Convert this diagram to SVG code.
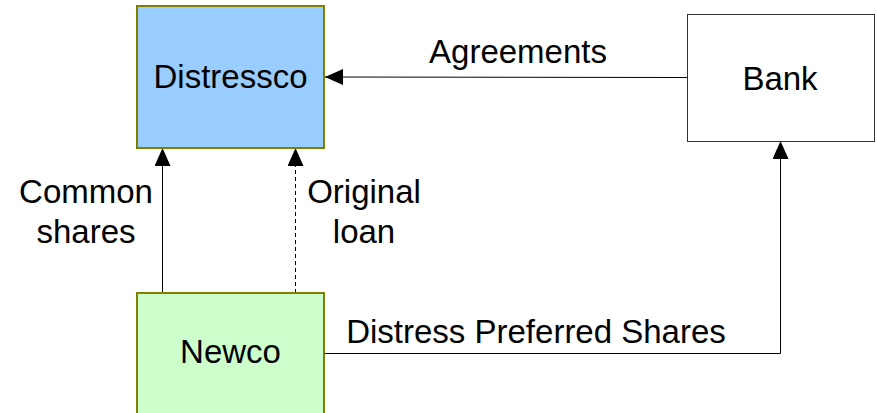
<svg xmlns="http://www.w3.org/2000/svg" width="877" height="413" viewBox="0 0 877 413">
<defs>
<style>
text{font-family:"Liberation Sans",Arial,sans-serif;font-size:33px;fill:#000;text-anchor:middle}
.conn{stroke:#000;stroke-width:1;fill:none}
</style>
<marker id="ah" viewBox="0 0 18 16" refX="18" refY="8" markerWidth="18" markerHeight="16" markerUnits="userSpaceOnUse" orient="auto">
<path d="M0,0 L18,8 L0,16 Z" fill="#000"/>
</marker>
</defs>
<rect width="877" height="413" fill="#fff"/>
<g id="connectors">
<line class="conn" x1="687" y1="77.5" x2="325" y2="77" marker-end="url(#ah)"/>
<line class="conn" x1="162.5" y1="293" x2="162.5" y2="148" marker-end="url(#ah)"/>
<line class="conn" x1="295.5" y1="293" x2="295.5" y2="148" stroke-dasharray="4,3" marker-end="url(#ah)"/>
<polyline class="conn" points="324,353.5 780.5,353.5 780.5,141" marker-end="url(#ah)"/>
<text x="518" y="63">Agreements</text>
<text x="86" y="203">Common</text>
<text x="86" y="243">shares</text>
<text x="364" y="203">Original</text>
<text x="364" y="243">loan</text>
<text x="536" y="343">Distress Preferred Shares</text>
</g>
<g id="distressco">
<rect x="137" y="6" width="187" height="142" fill="#99ccff" stroke="#808000" stroke-width="2"/>
<text x="230.5" y="88">Distressco</text>
</g>
<g id="bank">
<rect x="687.5" y="14.5" width="187" height="127" fill="#fff" stroke="#333" stroke-width="1"/>
<text x="780" y="90">Bank</text>
</g>
<g id="newco">
<rect x="137" y="293" width="187" height="130" fill="#ccffcc" stroke="#808000" stroke-width="2"/>
<text x="230.5" y="363">Newco</text>
</g>
</svg>
